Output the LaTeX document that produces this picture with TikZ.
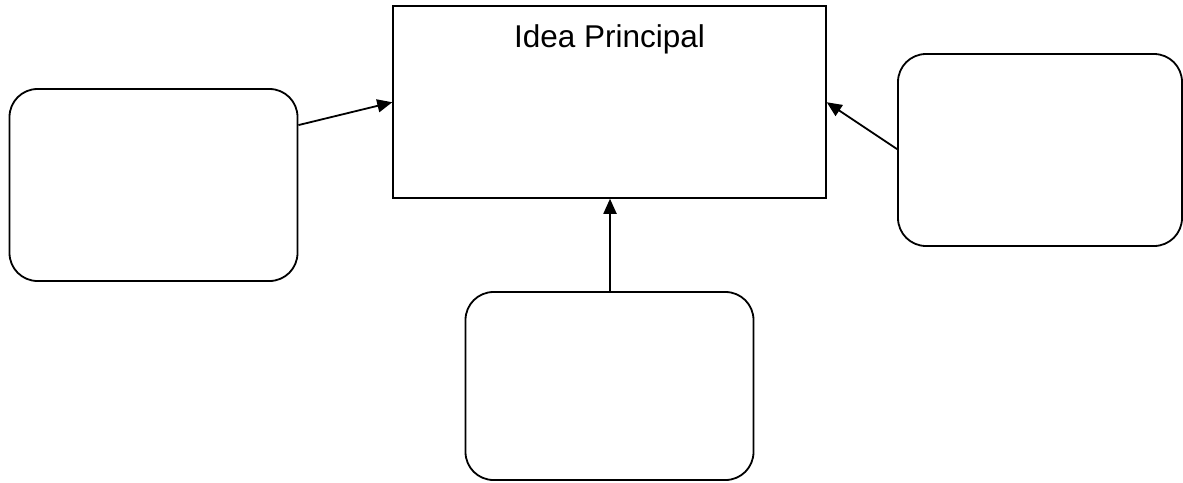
\documentclass[tikz,border=0pt]{standalone}
\usepackage{fontspec}
\setmainfont{Liberation Sans}
\usetikzlibrary{arrows.meta}
\begin{document}
\begin{tikzpicture}[x=1pt,y=-1pt,
  box/.style={draw=black,line width=1.8pt,rounded corners=28pt,inner sep=0pt},
  mainbox/.style={draw=black,line width=1.5pt,inner sep=0pt},
  conn/.style={line width=1.8pt,-{Triangle[length=15pt,width=13pt]}}]
\useasboundingbox (0,0) rectangle (1183,482);
\node[mainbox,minimum width=433pt,minimum height=192pt] (m) at (609.5,102) {};
\node[font=\fontsize{31.5}{36}\selectfont,anchor=base] (t) at (609.5,47) {Idea Principal};
\node[box,minimum width=288pt,minimum height=192pt] (l) at (153.5,185) {};
\node[box,minimum width=284pt,minimum height=192pt] (r) at (1040,150) {};
\node[box,minimum width=288pt,minimum height=188pt] (b) at (609.5,386) {};
\draw[conn] ([yshift=-37pt]l.north east) -- ([yshift=-97pt]m.north west);
\draw[conn] ([yshift=-96pt]r.north west) -- ([yshift=-97pt]m.north east);
\draw[conn] ([xshift=0.5pt]b.north) -- ([xshift=0.5pt]m.south);
\end{tikzpicture}
\end{document}
